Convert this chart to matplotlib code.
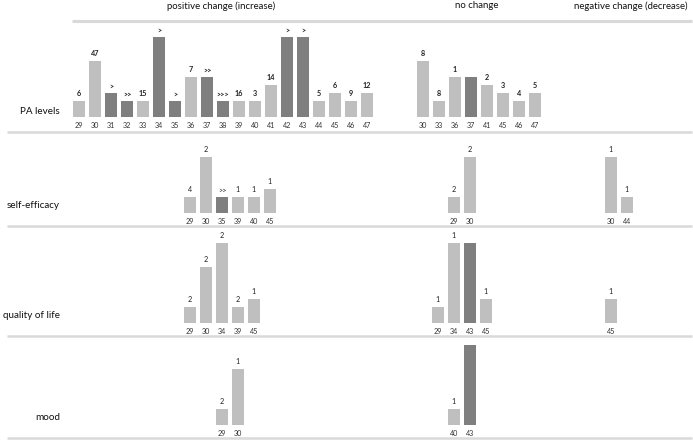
import matplotlib
matplotlib.use('Agg')
import matplotlib.pyplot as plt

plt.rcParams['font.family'] = ['Lato', 'DejaVu Sans']

# Data: categories, bar heights (levels), value labels, dark-shaded categories

pa_pos_cats = [29, 30, 31, 32, 33, 34, 35, 36, 37, 38, 39, 40, 41, 42, 43, 44, 45, 46, 47]
pa_pos_vals = [2, 7, 3, 2, 2, 10, 2, 5, 5, 2, 2, 2, 4, 10, 10, 2, 3, 2, 3]
pa_pos_labels = ['6', '47', '>', '>>', '15', '>', '>', '7', '>>', '>>>', '16', '3', '14', '>', '>', '5', '6', '9', '12']
pa_pos_dark = [31, 32, 34, 35, 37, 38, 42, 43]

pa_nc_cats = [30, 33, 36, 37, 41, 45, 46, 47]
pa_nc_vals = [7, 2, 5, 5, 4, 3, 2, 3]
pa_nc_labels = ['8', '8', '1', '', '2', '3', '4', '5']
pa_nc_dark = [37]

se_pos_cats = [29, 30, 35, 39, 40, 45]
se_pos_vals = [2, 7, 2, 2, 2, 3]
se_pos_labels = ['4', '2', '>>', '1', '1', '1']
se_pos_dark = [35]

se_nc_cats = [29, 30]
se_nc_vals = [2, 7]
se_nc_labels = ['2', '2']

se_neg_cats = [30, 44]
se_neg_vals = [7, 2]
se_neg_labels = ['1', '1']

ql_pos_cats = [29, 30, 34, 39, 45]
ql_pos_vals = [2, 7, 10, 2, 3]
ql_pos_labels = ['2', '2', '2', '2', '1']

ql_nc_cats = [29, 34, 43, 45]
ql_nc_vals = [2, 10, 10, 3]
ql_nc_labels = ['1', '1', '', '1']
ql_nc_dark = [43]

ql_neg_cats = [45]
ql_neg_vals = [3]
ql_neg_labels = ['1']

mo_pos_cats = [29, 30]
mo_pos_vals = [2, 7]
mo_pos_labels = ['2', '1']

mo_nc_cats = [40, 43]
mo_nc_vals = [2, 10]
mo_nc_labels = ['1', '']
mo_nc_dark = [43]

row_names = ['PA levels', 'self-efficacy', 'quality of life', 'mood']
headers = ['positive change (increase)', 'no change', 'negative change (decrease)']

# Layout (pixels)
W, H = 693, 441
UNIT = 8.0       # px per level
STEP = 16        # px between bars
BW = 12          # bar width px
LIGHT = '#bfbfbf'
DARK = '#7f7f7f'
LINE = '#d9d9d9'

fig = plt.figure(figsize=(W / 100, H / 100), dpi=100)

bg = fig.add_axes([0, 0, 1, 1])
bg.set_xlim(0, W)
bg.set_ylim(H, 0)
bg.axis('off')


def draw_group(ax, x0, cats, vals, labels, dark=(), bold=False):
    xs = [x0 + STEP * i + BW / 2 for i in range(len(cats))]
    cols = [DARK if c in dark else LIGHT for c in cats]
    ax.bar(xs, vals, width=BW, color=cols, edgecolor='none')
    for x, c, v, lab in zip(xs, cats, vals, labels):
        ax.text(x, -5 / UNIT, str(c), ha='center', va='top', fontsize=5.2,
                color='#333333', clip_on=False)
        if lab:
            ax.text(x, v + 3.5 / UNIT, lab, ha='center', va='bottom', fontsize=5.2,
                    fontweight='bold' if bold else 'normal', color='#222222', clip_on=False)


def row_axes(baseline):
    h = 100
    ax = fig.add_axes([0, (H - baseline) / H, 1, h / H], zorder=2)
    ax.set_xlim(0, W)
    ax.set_ylim(0, h / UNIT)
    ax.axis('off')
    return ax


# PA levels
ax = row_axes(117)
draw_group(ax, 73, pa_pos_cats, pa_pos_vals, pa_pos_labels, pa_pos_dark, bold=True)
draw_group(ax, 417, pa_nc_cats, pa_nc_vals, pa_nc_labels, pa_nc_dark, bold=True)

# self-efficacy
ax = row_axes(213)
draw_group(ax, 184, se_pos_cats, se_pos_vals, se_pos_labels, se_pos_dark)
draw_group(ax, 448, se_nc_cats, se_nc_vals, se_nc_labels)
draw_group(ax, 605, se_neg_cats, se_neg_vals, se_neg_labels)

# quality of life
ax = row_axes(323)
draw_group(ax, 184, ql_pos_cats, ql_pos_vals, ql_pos_labels)
draw_group(ax, 432, ql_nc_cats, ql_nc_vals, ql_nc_labels, ql_nc_dark)
draw_group(ax, 605, ql_neg_cats, ql_neg_vals, ql_neg_labels)

# mood
ax = row_axes(425)
draw_group(ax, 216, mo_pos_cats, mo_pos_vals, mo_pos_labels)
draw_group(ax, 448, mo_nc_cats, mo_nc_vals, mo_nc_labels, mo_nc_dark)

# headers and separator lines
for name, xc in zip(headers, [221, 477, 631]):
    bg.text(xc, 6, name, ha='center', va='center', fontsize=6.9, color='#111111')
bg.plot([72, 692], [21, 21], color=LINE, lw=2.2, solid_capstyle='butt')
for y in [132, 226, 336, 438]:
    bg.plot([7, 692], [y, y], color=LINE, lw=1.8, solid_capstyle='butt')

for name, yc in zip(row_names, [111, 206, 316, 418]):
    bg.text(60, yc, name, ha='right', va='center', fontsize=7.1, color='#111111')

fig.savefig('out.png', dpi=100)
